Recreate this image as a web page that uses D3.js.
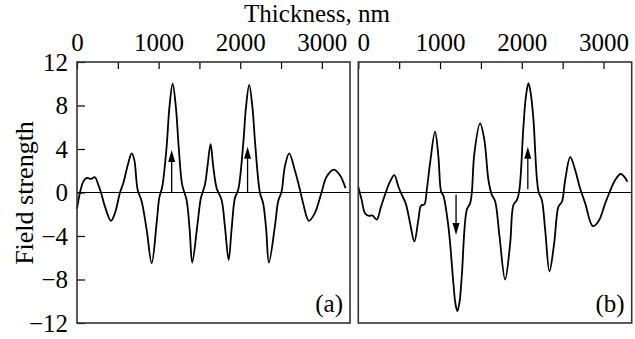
<!DOCTYPE html>
<html>
<head>
<meta charset="utf-8">
<script src="https://cdn.jsdelivr.net/npm/d3@7"></script>
<style>
  html, body { margin: 0; padding: 0; background: #fff; }
  svg text { font-family: "Liberation Serif", "Times New Roman", serif; fill: #000; }
</style>
</head>
<body>
<div id="chart"></div>
<script>
// Field strength vs. thickness, two panels (a) and (b)
const thicknessA = [0, 37, 77, 119, 171, 220, 261, 294, 343, 416, 465, 527, 567, 628, 670, 702, 743, 792,
  853, 915, 976, 1008, 1045, 1098, 1132, 1172, 1212, 1246, 1289, 1343, 1380, 1412, 1478, 1518, 1567,
  1600, 1637, 1669, 1711, 1772, 1812, 1858, 1894, 1935, 1975, 2036, 2070, 2110, 2150, 2182, 2241, 2281,
  2318, 2351, 2425, 2465, 2507, 2547, 2600, 2669, 2722, 2771, 2841, 2914, 2996, 3058, 3147, 3220, 3290];
const fieldA = [-1.5, 0, 1.0, 1.35, 1.25, 1.4, 0.7, 0, -1.3, -2.6, -1.9, 0, 0.85, 2.7, 3.6, 3.0, 0.25, -0.8,
  -3.4, -6.5, -2.8, -0.5, 0.55, 4.2, 7.8, 10.0, 7.8, 4.2, 0.7, -0.7, -3.4, -6.45, -2.8, -0.5, 0.7,
  2.5, 4.45, 2.4, 0.4, -0.7, -3.1, -6.2, -3.4, -0.5, 0.25, 4.4, 7.8, 9.9, 7.8, 4.6, 0, -1.0,
  -3.4, -6.45, -3.1, -0.8, 0.1, 2.4, 3.6, 2.05, 0.55, -1.0, -2.6, -1.9, 0, 1.45, 2.1, 1.6, 0.4];

const thicknessB = [0, 42, 82, 131, 171, 225, 278, 336, 388, 441, 490, 531, 580, 633, 686, 735, 768, 808,
  838, 878, 939, 980, 1013, 1041, 1102, 1163, 1188, 1212, 1238, 1266, 1327, 1368, 1389, 1420, 1490, 1543,
  1592, 1633, 1674, 1727, 1796, 1858, 1898, 1940, 1971, 2020, 2052, 2082, 2112, 2143, 2204, 2246, 2286,
  2339, 2396, 2449, 2491, 2531, 2593, 2654, 2707, 2776, 2870, 2939, 3021, 3073, 3143, 3212, 3293];
const fieldB = [0.5, -0.7, -1.9, -2.15, -2.1, -2.5, -1.3, 0, 1.0, 1.6, 0.55, -0.2, -1.0, -2.8, -4.5, -2.5, -1.2, -1.1,
  0.25, 2.7, 5.6, 3.3, 0.1, -0.3, -3.1, -8.3, -10.2, -10.9, -10.1, -7.7, -1.6, -1.0, 0, 3.6, 6.35, 4.8,
  1.15, -0.2, -0.8, -4.0, -8.0, -4.7, -1.15, -0.7, 0.25, 6.05, 8.9, 10.05, 9.0, 6.7, 0.1, -0.7, -3.4,
  -7.25, -4.7, -1.3, -0.85, 1.15, 3.25, 2.05, 0.55, -1.0, -3.1, -2.65, -1.0, 0, 1.15, 1.7, 1.0];

// arrows: position, start, end (field units)
const arrowsA = [[1160, 0, 3.9], [2090, 0, 4.2]];
const arrowsB = [[1196, -0.2, -3.9], [2074, 0.3, 4.2]];

const xTicks = [0, 500, 1000, 1500, 2000, 2500, 3000];
const yTicks = [-12, -8, -4, 0, 4, 8, 12];

const W = 635, H = 339;
const plotTop = 62, plotBottom = 323;
const panels = [
  { left: 77, right: 350, xs: thicknessA, ys: fieldA, arrows: arrowsA, label: "(a)", yAxis: true },
  { left: 358.3, right: 631.7, xs: thicknessB, ys: fieldB, arrows: arrowsB, label: "(b)", yAxis: false },
];

const svg = d3.select("#chart").append("svg").attr("width", W).attr("height", H);
svg.append("rect").attr("width", W).attr("height", H).attr("fill", "#fff");

const y = d3.scaleLinear().domain([-12, 12]).range([plotBottom, plotTop]);
const fmt = (v) => (v < 0 ? "\u2212" + Math.abs(v) : String(v));

panels.forEach((p, pi) => {
  const x = d3.scaleLinear().domain([0, 3345]).range([p.left, p.right]);
  const g = svg.append("g");

  // zero line
  g.append("line")
    .attr("x1", x(0)).attr("x2", x(3345))
    .attr("y1", y(0)).attr("y2", y(0))
    .attr("stroke", "#000").attr("stroke-width", 1);

  // curve
  const pts = p.xs.map((d, i) => [d, p.ys[i]]);
  g.append("path")
    .datum(pts)
    .attr("fill", "none")
    .attr("stroke", "#000")
    .attr("stroke-width", 1.8)
    .attr("stroke-linejoin", "round")
    .attr("d", d3.line().x((d) => x(d[0])).y((d) => y(d[1])).curve(d3.curveCatmullRom.alpha(0.5)));

  // arrows
  p.arrows.forEach(([ax, a0, a1]) => {
    const dir = a1 > a0 ? 1 : -1;
    const tipY = y(a1);
    const baseY = tipY + dir * 12;
    g.append("line")
      .attr("x1", x(ax)).attr("x2", x(ax))
      .attr("y1", y(a0)).attr("y2", baseY)
      .attr("stroke", "#000").attr("stroke-width", 1.3);
    g.append("path")
      .attr("d", `M${x(ax)},${tipY}L${x(ax) - 3.5},${baseY}L${x(ax) + 3.5},${baseY}Z`)
      .attr("fill", "#000");
  });

  // top axis with inside ticks
  const xAxis = g.append("g")
    .attr("transform", `translate(0,${plotTop})`)
    .call(d3.axisTop(x).tickValues(xTicks).tickSizeInner(-7).tickSizeOuter(0).tickPadding(11)
      .tickFormat((d) => (d % 1000 === 0 ? d : "")));
  xAxis.attr("font-family", null).attr("font-size", 25);
  xAxis.select(".domain").remove();
  xAxis.selectAll("line").attr("stroke", "#000").attr("stroke-width", 1.2);
  xAxis.selectAll("text")
    .attr("dx", (d) => (pi === 1 && d === 0 ? 5 : 0));

  if (p.yAxis) {
    const yAxis = g.append("g")
      .attr("transform", `translate(${p.left},0)`)
      .call(d3.axisLeft(y).tickValues(yTicks).tickSizeInner(-8).tickSizeOuter(0).tickPadding(9).tickFormat(fmt));
    yAxis.attr("font-family", null).attr("font-size", 25);
    yAxis.select(".domain").remove();
    yAxis.selectAll("line").attr("stroke", "#000").attr("stroke-width", 1.2);
  }

  // frame
  g.append("rect")
    .attr("x", p.left).attr("y", plotTop)
    .attr("width", p.right - p.left).attr("height", plotBottom - plotTop)
    .attr("fill", "none").attr("stroke", "#333").attr("stroke-width", 1.6);

  // panel label
  g.append("text")
    .attr("x", p.right - 7).attr("y", plotBottom - 11)
    .attr("text-anchor", "end")
    .attr("font-size", 25)
    .text(p.label);
});

svg.append("text")
  .attr("x", 317).attr("y", 22)
  .attr("text-anchor", "middle")
  .attr("font-size", 25)
  .text("Thickness, nm");

svg.append("text")
  .attr("transform", "translate(33,193) rotate(-90)")
  .attr("text-anchor", "middle")
  .attr("font-size", 26)
  .text("Field strength");
</script>
</body>
</html>
